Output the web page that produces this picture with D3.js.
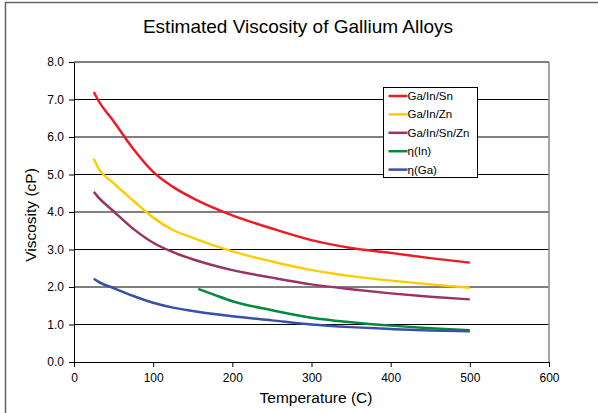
<!DOCTYPE html>
<html>
<head>
<meta charset="utf-8">
<script src="https://cdn.jsdelivr.net/npm/d3@7"></script>
<style>
  body { margin: 0; background: #fff; }
  text { font-family: "Liberation Sans", Arial, sans-serif; fill: #000; }
</style>
</head>
<body>
<div class="container"></div>
<script>
// values
const tempsGa = [25, 30, 50, 75, 100, 125, 150, 200, 250, 300, 350, 400, 450, 500];
const gaInSn = [7.2, 7.0, 6.42, 5.68, 5.07, 4.67, 4.37, 3.91, 3.56, 3.25, 3.04, 2.91, 2.77, 2.65];
const gaInZn = [5.42, 5.2, 4.77, 4.3, 3.85, 3.52, 3.31, 2.95, 2.68, 2.45, 2.29, 2.17, 2.07, 1.98];
const gaInSnZn = [4.54, 4.41, 4.02, 3.55, 3.18, 2.93, 2.74, 2.45, 2.25, 2.07, 1.94, 1.83, 1.74, 1.67];
const etaGa = [2.22, 2.15, 1.97, 1.76, 1.58, 1.45, 1.36, 1.22, 1.11, 1.0, 0.93, 0.88, 0.84, 0.82];
const tempsIn = [157, 175, 200, 250, 300, 350, 400, 450, 500];
const etaIn = [1.95, 1.81, 1.62, 1.38, 1.18, 1.06, 0.97, 0.9, 0.85];

const xTicks = [0, 100, 200, 300, 400, 500, 600];
const yTicks = [0, 1, 2, 3, 4, 5, 6, 7, 8];

const series = [
  {name: 'Ga/In/Sn', color: '#ec1c24', x: tempsGa, y: gaInSn},
  {name: 'Ga/In/Zn', color: '#ffcc00', x: tempsGa, y: gaInZn},
  {name: 'Ga/In/Sn/Zn', color: '#993366', x: tempsGa, y: gaInSnZn},
  {name: 'η(In)', color: '#008a3e', x: tempsIn, y: etaIn},
  {name: 'η(Ga)', color: '#3850a5', x: tempsGa, y: etaGa}
];

const width = 598, height = 413;
const svg = d3.select('.container').append('svg')
  .attr('width', width).attr('height', height);

// outer chart frame (runs off right and bottom)
svg.append('path')
  .attr('d', `M5.5,${height + 5} V2.5 H${width + 5}`)
  .attr('fill', 'none').attr('stroke', '#666').attr('stroke-width', 1.5);

const xScale = d3.scaleLinear().domain([0, 600]).range([74, 549]);
const yScale = d3.scaleLinear().domain([0, 8]).range([362, 62]);

// gridlines
svg.append('g').selectAll('line')
  .data(yTicks.slice(1))
  .enter().append('line')
  .attr('x1', xScale(0)).attr('x2', xScale(600))
  .attr('y1', d => yScale(d)).attr('y2', d => yScale(d))
  .attr('stroke', '#000').attr('stroke-width', 1);

// right border of plot
svg.append('line')
  .attr('x1', xScale(600)).attr('x2', xScale(600))
  .attr('y1', yScale(8)).attr('y2', yScale(0))
  .attr('stroke', '#888').attr('stroke-width', 1.5);

const xAxis = d3.axisBottom(xScale).tickValues(xTicks).tickSize(5).tickSizeOuter(0).tickPadding(6);
const gx = svg.append('g').attr('transform', `translate(0,${yScale(0)})`).call(xAxis);
const yAxis = d3.axisLeft(yScale).tickValues(yTicks).tickFormat(d3.format('.1f')).tickSize(5).tickSizeOuter(0).tickPadding(5);
const gy = svg.append('g').attr('transform', `translate(${xScale(0)},0)`).call(yAxis);

[gx, gy].forEach(g => {
  g.selectAll('text').style('font-size', '12px').style('font-family', '"Liberation Sans", Arial, sans-serif');
  g.selectAll('path, line').attr('stroke', '#000');
});

// curves
const line = d3.line()
  .x(d => xScale(d[0]))
  .y(d => yScale(d[1]))
  .curve(d3.curveMonotoneX);

series.forEach(s => {
  svg.append('path')
    .datum(s.x.map((t, i) => [t, s.y[i]]))
    .attr('d', line)
    .attr('fill', 'none')
    .attr('stroke', s.color)
    .attr('stroke-width', 2.5);
});

// title and axis titles
svg.append('text')
  .attr('x', 298).attr('y', 33)
  .attr('text-anchor', 'middle')
  .style('font-size', '19px')
  .text('Estimated Viscosity of Gallium Alloys');

svg.append('text')
  .attr('x', 316).attr('y', 403)
  .attr('text-anchor', 'middle')
  .style('font-size', '15.5px')
  .text('Temperature (C)');

svg.append('text')
  .attr('transform', `translate(36,215) rotate(-90)`)
  .attr('text-anchor', 'middle')
  .style('font-size', '15.5px')
  .text('Viscosity (cP)');

// legend
const legend = svg.append('g').attr('transform', 'translate(383.5,87.5)');
legend.append('rect')
  .attr('width', 94).attr('height', 90)
  .attr('fill', '#fff').attr('stroke', '#000').attr('stroke-width', 1);

const rows = legend.selectAll('g.item')
  .data(series)
  .enter().append('g')
  .attr('class', 'item')
  .attr('transform', (d, i) => `translate(0,${8.5 + i * 18.4})`);

rows.append('line')
  .attr('x1', 5).attr('x2', 24)
  .attr('stroke', d => d.color).attr('stroke-width', 2.5);

rows.append('text')
  .attr('x', 24).attr('y', 4)
  .style('font-size', '11.5px')
  .text(d => d.name);
</script>
</body>
</html>
